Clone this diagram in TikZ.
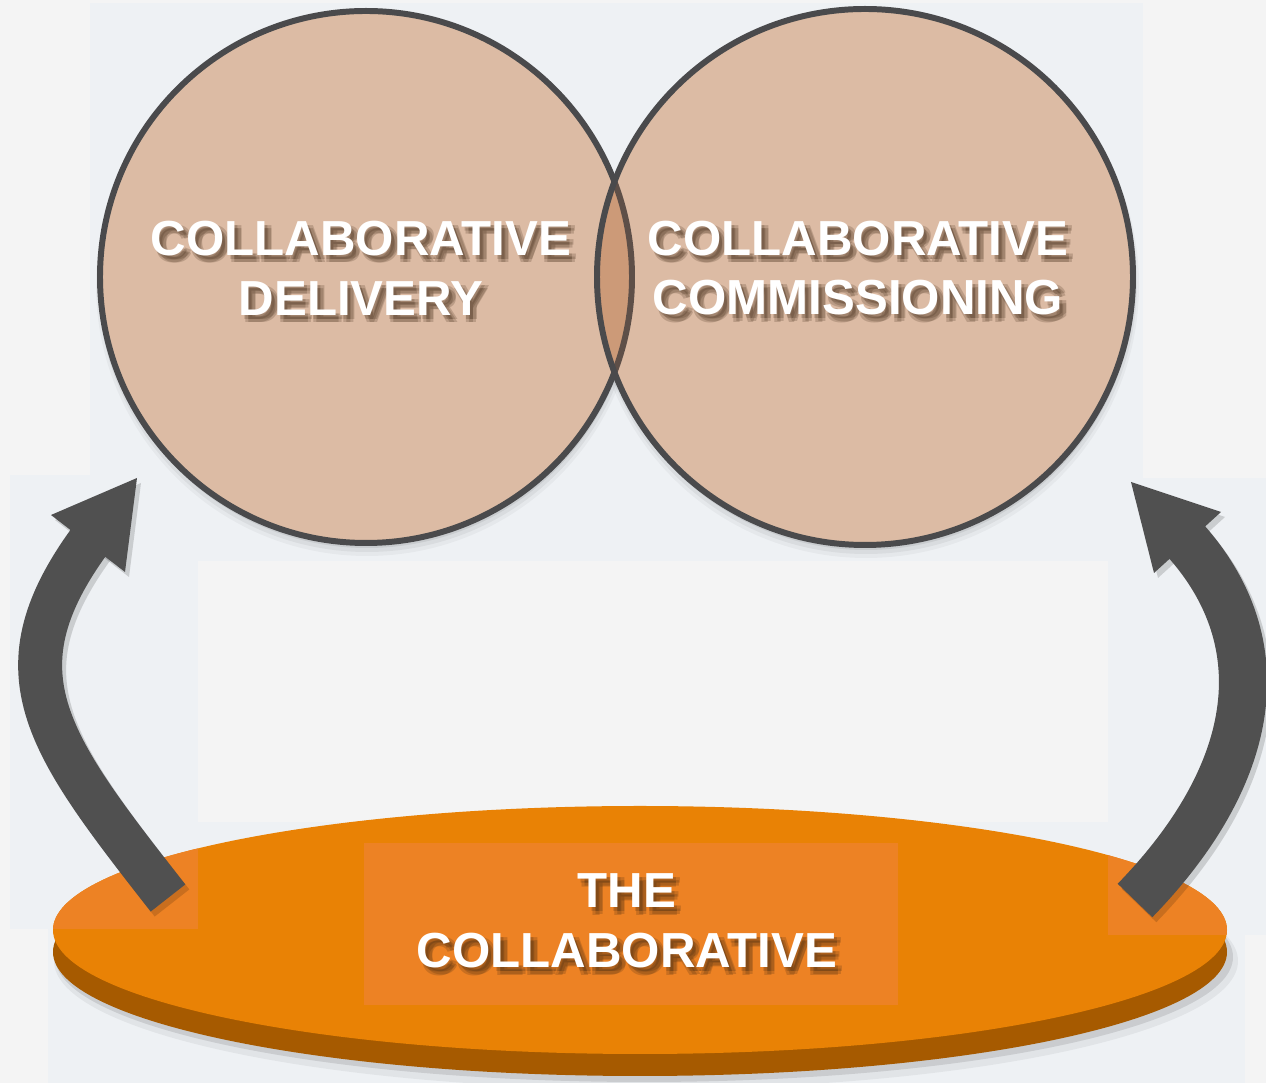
\documentclass[tikz,border=0pt]{standalone}
\usepackage{fontspec}
\setmainfont{Liberation Sans}
\usetikzlibrary{calc}
\definecolor{bgA}{HTML}{F4F4F4}
\definecolor{bgB}{HTML}{EEF1F4}
\definecolor{cfill}{HTML}{DCBBA4}
\definecolor{lensc}{HTML}{CC9A78}
\definecolor{cline}{HTML}{4A4A4C}
\definecolor{clinetwo}{HTML}{5E4F48}
\definecolor{org}{HTML}{E98205}
\definecolor{orgd}{HTML}{A65A00}
\definecolor{orgl}{HTML}{ED8224}
\definecolor{arr}{HTML}{505050}
\definecolor{shcol}{HTML}{3A2410}
\tikzset{
  lbl/.style={font=\fontsize{14}{17}\selectfont\bfseries, text=white, align=center, inner sep=0pt},
  lblsh/.style={lbl, text=shcol, text opacity=0.2},
  ring/.style={line width=1.7pt, draw=cline},
  shaftL/.style={draw=arr, line width=12.5pt, line cap=butt},
  shaftR/.style={draw=arr, line width=13.7pt, line cap=butt},
  headf/.style={fill=arr},
}
\newcommand\shtext[3]{%
  \node[lblsh, xshift=0.03cm, yshift=-0.04cm] (#1-s1) at (#2) {#3};
  \node[lblsh, xshift=0.065cm, yshift=-0.07cm] (#1-s2) at (#2) {#3};
  \node[lblsh, xshift=0.035cm, yshift=-0.075cm] (#1-s3) at (#2) {#3};
  \node[lblsh, xshift=0.07cm, yshift=-0.04cm] (#1-s4) at (#2) {#3};
  \node[lbl] (#1) at (#2) {#3};}
\begin{document}
\begin{tikzpicture}[x=0.01cm,y=-0.01cm]
\useasboundingbox (0,0) rectangle (1266,1083);
% background
\fill[bgA] (0,0) rectangle (1266,1083);
\fill[bgB] (90,3) rectangle (1143,561);
\fill[bgB] (10,475) rectangle (198,929);
\fill[bgB] (1108,478) rectangle (1266,935);
\fill[bgB] (48,822) rectangle (1245,1083);
% coordinates
\coordinate (cL) at (366,277);
\coordinate (cR) at (865,277);
\coordinate (eC) at (640,930);
\coordinate (eR) at (640,952);
% circle shadows
\foreach \o/\r/\a in {8/271/0.035, 6/269/0.05, 4/267/0.07}{
  \fill[black,opacity=\a] ([shift={(1,\o)}]cL) circle[radius=\r];
  \fill[black,opacity=\a] ([shift={(1,\o)}]cR) circle[radius=\r+2];
}
% circles
\fill[cfill] (cL) circle[radius=266];
\draw[ring] (cL) circle[radius=266];
\fill[cfill] (cR) circle[radius=268];
\begin{scope}
  \clip (cL) circle[radius=266];
  \fill[lensc] (cR) circle[radius=268];
\end{scope}
\begin{scope}
  \clip (cR) circle[radius=268];
  \draw[ring, draw=clinetwo] (cL) circle[radius=266];
\end{scope}
\draw[ring] (cR) circle[radius=268];
% platform ellipse
\fill[black,opacity=0.05] ([shift={(6,9)}]eR) ellipse[x radius=592, y radius=128];
\fill[black,opacity=0.10] ([shift={(4,5)}]eR) ellipse[x radius=589, y radius=125];
\fill[orgd] (eR) ellipse[x radius=587, y radius=124];
\fill[org] (eC) ellipse[x radius=587, y radius=124];
\begin{scope}
  \clip (eC) ellipse[x radius=587, y radius=124];
  \fill[orgl] (364,843) rectangle (898,1005);
  \fill[orgl] (10,836) rectangle (198,929);
  \fill[orgl] (1108,478) rectangle (1266,935);
\end{scope}
% arrow coordinates
\coordinate (lt) at (168,898);
\coordinate (lc1) at (45,741);
\coordinate (lc2) at (-8,671);
\coordinate (lb) at (94,535);
\coordinate (lhT) at (137,478);
\coordinate (lhA) at (51,515);
\coordinate (lhB) at (125,572);
\coordinate (rt) at (1135,900.5);
\coordinate (rc1) at (1253.5,778.6);
\coordinate (rc2) at (1283,644.8);
\coordinate (rb) at (1180.7,535.2);
\coordinate (rhT) at (1131,482);
\coordinate (rhA) at (1221,512);
\coordinate (rhB) at (1154,573);
% arrow shadows
\begin{scope}[transform canvas={shift={(4,5)}}, opacity=0.15]
  \draw[shaftL, draw=black] (lt) .. controls (lc1) and (lc2) .. (lb);
  \fill[black] (lhT) -- (lhA) -- (lhB) -- cycle;
  \draw[shaftR, draw=black] (rt) .. controls (rc1) and (rc2) .. (rb);
  \fill[black] (rhT) -- (rhA) -- (rhB) -- cycle;
\end{scope}
% arrows
\draw[shaftL] (lt) .. controls (lc1) and (lc2) .. (lb);
\fill[headf] (lhT) -- (lhA) -- (lhB) -- cycle;
\draw[shaftR] (rt) .. controls (rc1) and (rc2) .. (rb);
\fill[headf] (rhT) -- (rhA) -- (rhB) -- cycle;
% texts
\coordinate (tL) at (361,268);
\coordinate (tR) at (858,268);
\coordinate (tE) at (627,921);
\shtext{delivery}{tL}{COLLABORATIVE\\DELIVERY}
\shtext{commissioning}{tR}{COLLABORATIVE\\COMMISSIONING}
\shtext{collab}{tE}{THE\\COLLABORATIVE}
\end{tikzpicture}
\end{document}
